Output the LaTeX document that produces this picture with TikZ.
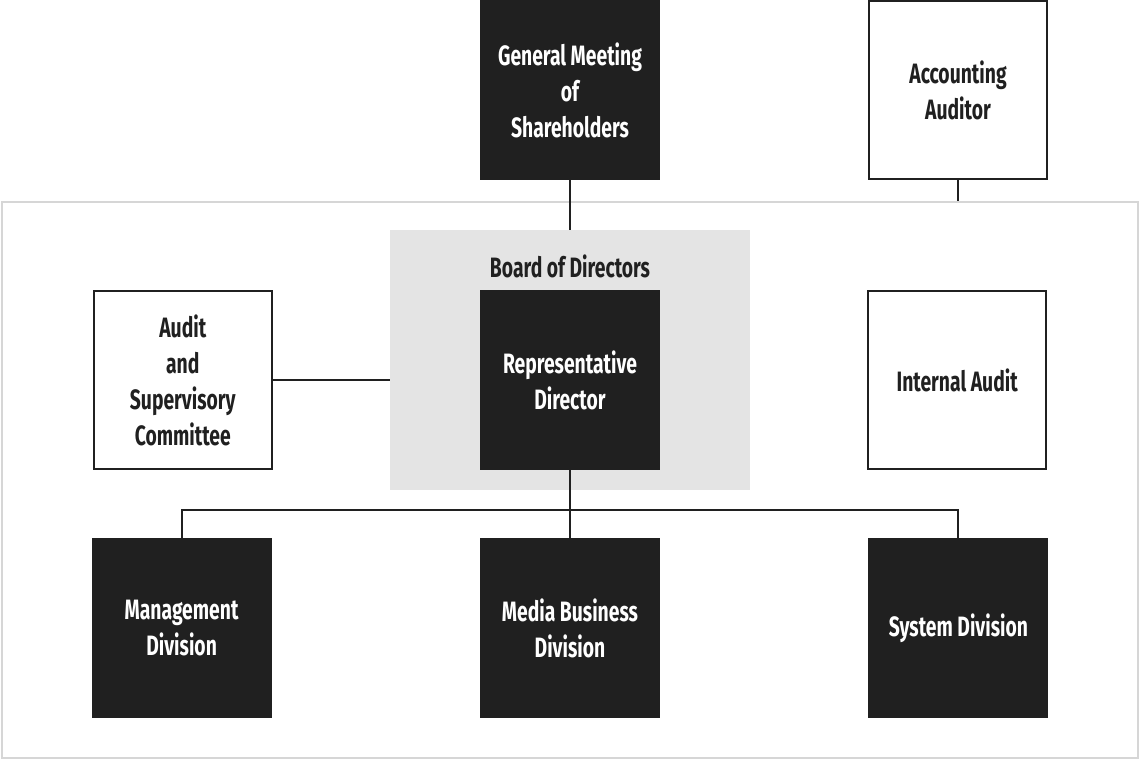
\documentclass[tikz,border=0pt]{standalone}
\usepackage{fontspec}
\setmainfont{Fira Sans}[FakeStretch=0.69]
\usetikzlibrary{positioning}
\definecolor{BoxDark}{RGB}{32,32,32}
\definecolor{BoardGray}{RGB}{228,228,228}
\definecolor{FrameGray}{RGB}{214,214,214}

\begin{document}
\begin{tikzpicture}[
    x=1pt, y=-1pt,
    node distance=58pt,
    dark/.style={rectangle, fill=BoxDark, text=white, minimum width=180pt, minimum height=180pt,
        inner sep=0pt, font=\bfseries\fontsize{28}{36}\selectfont, align=center},
    light/.style={dark, fill=white, draw=BoxDark, line width=2pt, text=BoxDark,
        minimum width=178pt, minimum height=178pt},
    link/.style={BoxDark, line width=2pt}
]
\useasboundingbox (0,0) rectangle (1140,760);
% frame and board area
\node[draw=FrameGray, line width=2pt, minimum width=1136pt, minimum height=556pt] (frame) at (570,480) {};
\node[fill=BoardGray, minimum width=360pt, minimum height=260pt] (board) at (570,360) {};
\node[font=\bfseries\fontsize{28}{36}\selectfont, text=BoxDark] (boardlbl) at (570,266) {Board of Directors};
% boxes
\node[dark] (rep) at (570,380) {Representative\\Director};
\node[dark] (gm)  at (570,90)  {General Meeting\\of\\Shareholders};
\node[light] (acc) at (958,90) {Accounting\\Auditor};
\node[light, left=207pt of rep]  (audit) {Audit\\and\\Supervisory\\Committee};
\node[light, right=207pt of rep] (intaudit) {Internal Audit};
\node[dark, below=68pt of rep]   (media) {Media Business\\Division};
\node[dark, left=208pt of media] (mgmt) {Management\\Division};
\node[dark, right=208pt of media] (sys) {System Division};
% links
\draw[link] (gm.south) -- (board.north);
\draw[link] (acc.south) -- (acc.south |- frame.north);
\draw[link] (audit.east) -- (audit.east -| board.west);
\draw[link] (rep.south) -- (media.north);
\draw[link] (mgmt.north) -- ++(0,-28) -| (sys.north);
\end{tikzpicture}
\end{document}
